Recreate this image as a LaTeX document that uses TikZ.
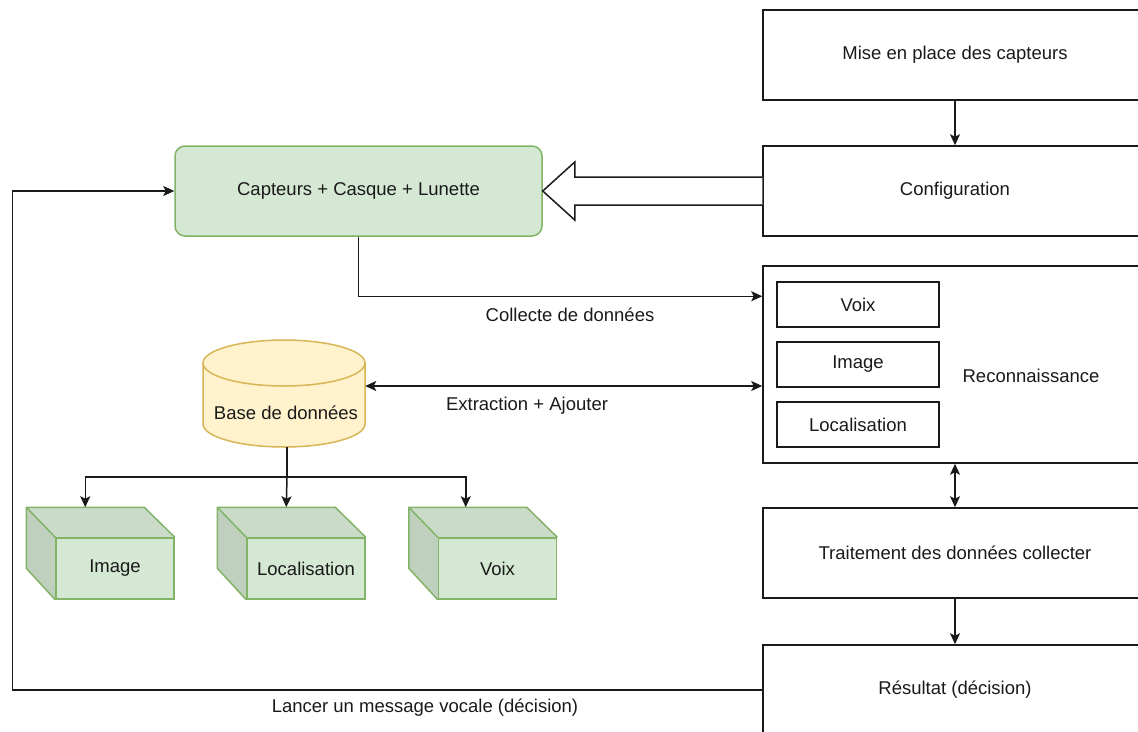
\documentclass[tikz,border=0pt]{standalone}
\usepackage{fontspec}
\setmainfont{Liberation Sans}
\usetikzlibrary{arrows.meta}

\definecolor{greenfill}{HTML}{D5E8D4}
\definecolor{greentop}{HTML}{CADCC9}
\definecolor{greenside}{HTML}{BFD0BE}
\definecolor{greenline}{HTML}{82B366}
\definecolor{yellowfill}{HTML}{FFF2CC}
\definecolor{yellowline}{HTML}{D6B656}
\definecolor{ink}{HTML}{1A1A1A}

\tikzset{
  stepbox/.style={draw=ink, fill=white, line width=1.5pt, minimum width=384pt, minimum height=90pt, inner sep=0pt},
  subbox/.style={draw=ink, fill=white, line width=1.5pt, minimum width=162pt, minimum height=45pt, inner sep=0pt},
  devicebox/.style={draw=greenline, fill=greenfill, line width=1.5pt, rounded corners=10pt, minimum width=367pt, minimum height=90pt},
  cubefront/.style={draw=greenline, fill=greenfill, line width=1.5pt, minimum width=118pt, minimum height=61pt, inner sep=0pt},
  cubeface/.style={draw=greenline, line width=1.5pt, line join=round},
  link/.style={draw=ink, line width=1.5pt},
  tag/.style={inner sep=0pt, text=ink},
}

\begin{document}
\begin{tikzpicture}[x=1pt, y=-1pt, font=\fontsize{18.5}{22}\selectfont, text=ink,
  >={Stealth[length=11pt, width=10pt, inset=2.5pt]}]
\useasboundingbox (0,0) rectangle (1138,731);
\clip (0,0) rectangle (1138,731);

% process column on the right
\node[stepbox] (mise)   at (955,55)    {Mise en place des capteurs};
\node[stepbox] (config) at (955,191)   {Configuration};
\node[stepbox, minimum height=197pt] (recon) at (955,364.5) {};
\node[tag] (recontext) at (1031,376) {Reconnaissance};
\node[subbox] (rvoix)  at (858,304.5) {Voix};
\node[subbox] (rimage) at (858,364.5) {Image};
\node[subbox] (rloc)   at (858,424.5) {Localisation};
\node[stepbox] (trait)  at (955,553)   {Traitement des données collecter};
\node[stepbox] (result) at (955,690)   {Résultat (décision)};

% sensors, helmet and glasses
\node[devicebox] (device) at (358.5,191) {Capteurs + Casque + Lunette};

% database cylinder
\path[fill=yellowfill, draw=yellowline, line width=1.5pt]
  (203,363) -- (203,424) arc[start angle=180, end angle=0, x radius=81, y radius=23]
  -- (365,363) arc[start angle=0, end angle=-180, x radius=81, y radius=23] -- cycle;
\draw[yellowline, line width=1.5pt] (203,363) arc[start angle=180, end angle=0, x radius=81, y radius=23];
\node[minimum width=162pt, minimum height=107pt, inner sep=0pt] (db) at (284,393.5) {};
\node[tag] (dbtext) at (286,413) {Base de données};

% storage cubes
\foreach \name/\cx/\lbl in {cimage/115/Image, cloc/306/Localisation, cvoix/497.5/Voix}{
  \node[cubefront] (\name) at (\cx,568.5) {};
  \fill[greentop]  (\name.north west) -- ++(-29,-30) -- ++(118,0) -- (\name.north east) -- cycle;
  \fill[greenside] (\name.north west) -- ++(-29,-30) -- ++(0,61) -- (\name.south west) -- cycle;
  \draw[cubeface] (\name.north west) -- ++(-29,-30) -- ++(118,0) -- (\name.north east);
  \draw[cubeface] (\name.north west) ++(-29,-30) -- ++(0,61) -- (\name.south west);
  \node[cubefront] at (\name) {\lbl};
}

% hollow arrow from configuration to the device
\filldraw[fill=white, draw=ink, line width=1.5pt, line join=miter]
  ([yshift=14pt]config.west) -- ([xshift=32pt, yshift=14pt]device.east)
  -- ([xshift=32pt, yshift=29pt]device.east) -- (device.east)
  -- ([xshift=32pt, yshift=-29pt]device.east) -- ([xshift=32pt, yshift=-14pt]device.east)
  -- ([yshift=-14pt]config.west);

% connectors
\draw[link, ->] (mise.south) -- (config.north);
\draw[link, <->] (recon.south) -- (trait.north);
\draw[link, ->] (trait.south) -- (result.north);
\draw[link, ->] (device.south) |- ([yshift=-31pt]recon.north west);
\node[tag] (lblcollect) at (570,315) {Collecte de données};
\draw[link, <->] ([yshift=7.5pt]db.east) -- ([yshift=-21.5pt]recon.west);
\node[tag] (lblextract) at (527,406) {Extraction + Ajouter};
\draw[link, ->] (result.west) -- ++(-750,0) |- (device.west);
\node[tag] (lblvocal) at (425,708) {Lancer un message vocale (décision)};

% database to storage cubes
\draw[link] ([xshift=3pt]db.south) -- ++(0,30) coordinate (split);
\draw[link, ->] (split) -| ([xshift=30pt, yshift=30pt]cimage.north west);
\draw[link, ->] (split) -- ([xshift=40pt, yshift=30pt]cloc.north west);
\draw[link, ->] (split) -| ([xshift=28pt, yshift=30pt]cvoix.north west);
\end{tikzpicture}
\end{document}
